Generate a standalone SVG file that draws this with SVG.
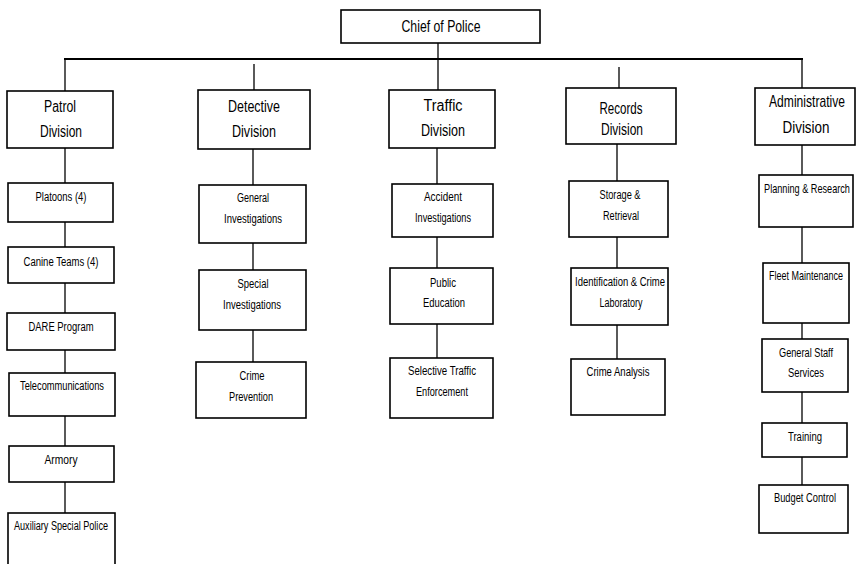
<svg xmlns="http://www.w3.org/2000/svg" width="857" height="564" viewBox="0 0 857 564">
<style>
rect{fill:#fff;stroke:#000;stroke-width:1.6}
line{stroke:#000;stroke-width:1.3}
text{font-family:"Liberation Sans",Arial,sans-serif;fill:#000;text-anchor:middle}
.d{font-size:16px}
.s{font-size:12.5px}
</style>
<rect width="857" height="564" style="fill:#fff;stroke:none"/>
<g id="connectors">
<line x1="64" y1="59" x2="803" y2="59" style="stroke-width:1.8"/>
<line x1="438" y1="43" x2="438" y2="90"/>
<line x1="65" y1="59" x2="65" y2="91"/>
<line x1="254" y1="64" x2="254" y2="90"/>
<line x1="619" y1="67" x2="619" y2="88"/>
<line x1="802" y1="59" x2="802" y2="88"/>
<line x1="65" y1="148" x2="65" y2="183"/>
<line x1="65" y1="222" x2="65" y2="247"/>
<line x1="65" y1="283" x2="65" y2="313"/>
<line x1="65" y1="350" x2="65" y2="373"/>
<line x1="65" y1="416" x2="65" y2="446"/>
<line x1="65" y1="482" x2="65" y2="513"/>
<line x1="253" y1="149" x2="253" y2="185"/>
<line x1="253" y1="243" x2="253" y2="270"/>
<line x1="253" y1="330" x2="253" y2="362"/>
<line x1="437" y1="148" x2="437" y2="184"/>
<line x1="437" y1="237" x2="437" y2="268"/>
<line x1="437" y1="324" x2="437" y2="358"/>
<line x1="617" y1="144" x2="617" y2="181"/>
<line x1="617" y1="237" x2="617" y2="268"/>
<line x1="617" y1="325" x2="617" y2="359"/>
<line x1="802" y1="145" x2="802" y2="175"/>
<line x1="802" y1="227" x2="802" y2="263"/>
<line x1="802" y1="323" x2="802" y2="339"/>
<line x1="802" y1="392" x2="802" y2="423"/>
<line x1="802" y1="457" x2="802" y2="485"/>
</g>
<g id="chief"><rect x="341" y="10" width="199" height="33"/><text class="d" x="441" y="32" textLength="79" lengthAdjust="spacingAndGlyphs">Chief of Police</text></g>
<g id="patrol"><rect x="7" y="91" width="106" height="57"/><text class="d" x="60" y="112" textLength="32" lengthAdjust="spacingAndGlyphs">Patrol</text><text class="d" x="61" y="137" textLength="42" lengthAdjust="spacingAndGlyphs">Division</text></g>
<g id="detective"><rect x="198" y="90" width="112" height="59"/><text class="d" x="254" y="112" textLength="52" lengthAdjust="spacingAndGlyphs">Detective</text><text class="d" x="254" y="137" textLength="44" lengthAdjust="spacingAndGlyphs">Division</text></g>
<g id="traffic"><rect x="389" y="90" width="106" height="58"/><text class="d" x="443" y="111" textLength="39" lengthAdjust="spacingAndGlyphs">Traffic</text><text class="d" x="443" y="136" textLength="44" lengthAdjust="spacingAndGlyphs">Division</text></g>
<g id="records"><rect x="566" y="88" width="110" height="56"/><text class="d" x="621" y="114" textLength="43" lengthAdjust="spacingAndGlyphs">Records</text><text class="d" x="622" y="135" textLength="42" lengthAdjust="spacingAndGlyphs">Division</text></g>
<g id="administrative"><rect x="755" y="88" width="100" height="57"/><text class="d" transform="translate(807 107) scale(0.756 1)">Administrative</text><text class="d" x="806" y="133" textLength="47" lengthAdjust="spacingAndGlyphs">Division</text></g>
<g id="platoons"><rect x="8" y="183" width="105" height="39"/><text class="s" x="61" y="201" textLength="51" lengthAdjust="spacingAndGlyphs">Platoons (4)</text></g>
<g id="canine"><rect x="8" y="247" width="106" height="36"/><text class="s" x="61" y="266" textLength="75" lengthAdjust="spacingAndGlyphs">Canine Teams (4)</text></g>
<g id="dare"><rect x="7" y="313" width="108" height="37"/><text class="s" x="61" y="331" textLength="65" lengthAdjust="spacingAndGlyphs">DARE Program</text></g>
<g id="telecom"><rect x="9" y="373" width="106" height="43"/><text class="s" x="62" y="390" textLength="84" lengthAdjust="spacingAndGlyphs">Telecommunications</text></g>
<g id="armory"><rect x="9" y="446" width="105" height="36"/><text class="s" x="61" y="464" textLength="33" lengthAdjust="spacingAndGlyphs">Armory</text></g>
<g id="auxiliary"><rect x="8" y="513" width="107" height="60"/><text class="s" x="61" y="530" textLength="94" lengthAdjust="spacingAndGlyphs">Auxiliary Special Police</text></g>
<g id="general-inv"><rect x="199" y="185" width="107" height="58"/><text class="s" x="253" y="202" textLength="32" lengthAdjust="spacingAndGlyphs">General</text><text class="s" x="253" y="223" textLength="58" lengthAdjust="spacingAndGlyphs">Investigations</text></g>
<g id="special-inv"><rect x="199" y="270" width="107" height="60"/><text class="s" x="253" y="288" textLength="31" lengthAdjust="spacingAndGlyphs">Special</text><text class="s" x="252" y="309" textLength="58" lengthAdjust="spacingAndGlyphs">Investigations</text></g>
<g id="crime-prev"><rect x="196" y="362" width="110" height="56"/><text class="s" x="252" y="380" textLength="25" lengthAdjust="spacingAndGlyphs">Crime</text><text class="s" x="251" y="401" textLength="44" lengthAdjust="spacingAndGlyphs">Prevention</text></g>
<g id="accident"><rect x="392" y="184" width="101" height="53"/><text class="s" x="443" y="201" textLength="38" lengthAdjust="spacingAndGlyphs">Accident</text><text class="s" x="443" y="222" textLength="56" lengthAdjust="spacingAndGlyphs">Investigations</text></g>
<g id="public-ed"><rect x="390" y="268" width="103" height="56"/><text class="s" x="443" y="287" textLength="26" lengthAdjust="spacingAndGlyphs">Public</text><text class="s" x="444" y="307" textLength="42" lengthAdjust="spacingAndGlyphs">Education</text></g>
<g id="selective"><rect x="390" y="358" width="103" height="60"/><text class="s" x="442" y="375" textLength="68" lengthAdjust="spacingAndGlyphs">Selective Traffic</text><text class="s" x="442" y="396" textLength="52" lengthAdjust="spacingAndGlyphs">Enforcement</text></g>
<g id="storage"><rect x="569" y="181" width="99" height="56"/><text class="s" x="620" y="199" textLength="41" lengthAdjust="spacingAndGlyphs">Storage &amp;</text><text class="s" x="621" y="220" textLength="36" lengthAdjust="spacingAndGlyphs">Retrieval</text></g>
<g id="ident"><rect x="571" y="268" width="97" height="57"/><text class="s" x="620" y="286" textLength="90" lengthAdjust="spacingAndGlyphs">Identification &amp; Crime</text><text class="s" x="621" y="307" textLength="43" lengthAdjust="spacingAndGlyphs">Laboratory</text></g>
<g id="crime-analysis"><rect x="571" y="359" width="94" height="56"/><text class="s" x="618" y="376" textLength="63" lengthAdjust="spacingAndGlyphs">Crime Analysis</text></g>
<g id="planning"><rect x="759" y="175" width="94" height="52"/><text class="s" transform="translate(807 193) scale(0.733 1)">Planning &amp; Research</text></g>
<g id="fleet"><rect x="763" y="263" width="86" height="60"/><text class="s" transform="translate(806 280) scale(0.72 1)">Fleet Maintenance</text></g>
<g id="staff"><rect x="762" y="339" width="86" height="53"/><text class="s" x="806" y="357" textLength="54" lengthAdjust="spacingAndGlyphs">General Staff</text><text class="s" x="806" y="377" textLength="36" lengthAdjust="spacingAndGlyphs">Services</text></g>
<g id="training"><rect x="762" y="423" width="85" height="34"/><text class="s" x="805" y="441" textLength="34" lengthAdjust="spacingAndGlyphs">Training</text></g>
<g id="budget"><rect x="759" y="485" width="89" height="48"/><text class="s" x="805" y="502" textLength="62" lengthAdjust="spacingAndGlyphs">Budget Control</text></g>
</svg>
